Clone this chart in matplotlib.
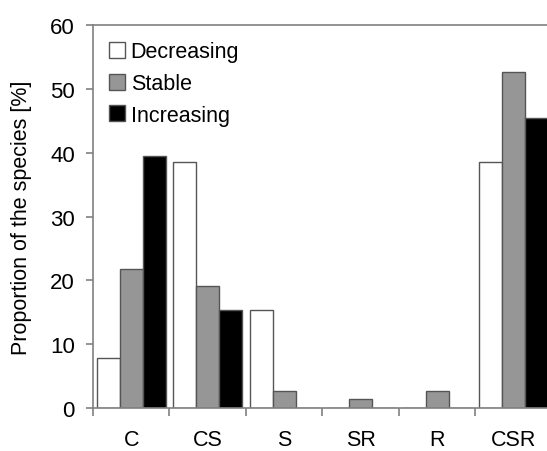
import numpy as np
import matplotlib.pyplot as plt
from matplotlib.patches import Patch

plt.rcParams['font.family'] = ['Liberation Sans', 'DejaVu Sans']

# data
categories = ['C', 'CS', 'S', 'SR', 'R', 'CSR']
decreasing = [7.8, 38.5, 15.4, 0, 0, 38.5]
stable = [21.8, 19.1, 2.7, 1.4, 2.7, 52.6]
increasing = [39.5, 15.3, 0, 0, 0, 45.5]

series = [('Decreasing', decreasing, 'white'),
          ('Stable', stable, '#969696'),
          ('Increasing', increasing, 'black')]

fig = plt.figure(figsize=(5.47, 4.52), dpi=100)
ax = fig.add_axes([0.170, 0.095, 0.839, 0.847])

x = np.arange(len(categories)) + 0.5
w = 0.3
for k, (name, vals, col) in enumerate(series):
    ax.bar(x + (k - 1) * w, vals, width=w, color=col,
           edgecolor='#555555', linewidth=1.0)

ax.set_xlim(0, 6)
ax.set_ylim(0, 60)
ax.set_yticks(np.arange(0, 61, 10))
ax.set_xticks(np.arange(0, 7))
ax.set_xticklabels([])
ax.set_xticks(x, minor=True)
ax.set_xticklabels(categories, minor=True, fontsize=15.5)
ax.tick_params(axis='x', which='minor', length=0, pad=15)
ax.tick_params(axis='x', which='major', length=6, direction='out',
               color='#808080', width=1.2)
ax.tick_params(axis='y', length=5, direction='out', color='#808080',
               width=1.2, labelsize=16, pad=8)

ax.spines['right'].set_visible(False)
for side in ['left', 'top', 'bottom']:
    ax.spines[side].set_color('#808080')
    ax.spines[side].set_linewidth(1.2)

ax.set_ylabel('Proportion of the species [%]', fontsize=15.5, labelpad=13)

handles = [Patch(facecolor=c, edgecolor='#555555', label=n) for n, _, c in series]
ax.legend(handles=handles, loc='upper left', bbox_to_anchor=(0.0, 1.0),
          frameon=False, fontsize=15.5, handlelength=0.75, handleheight=0.75,
          handletextpad=0.25, labelspacing=0.5, borderaxespad=0.35)

fig.savefig('out.png', dpi=100)
